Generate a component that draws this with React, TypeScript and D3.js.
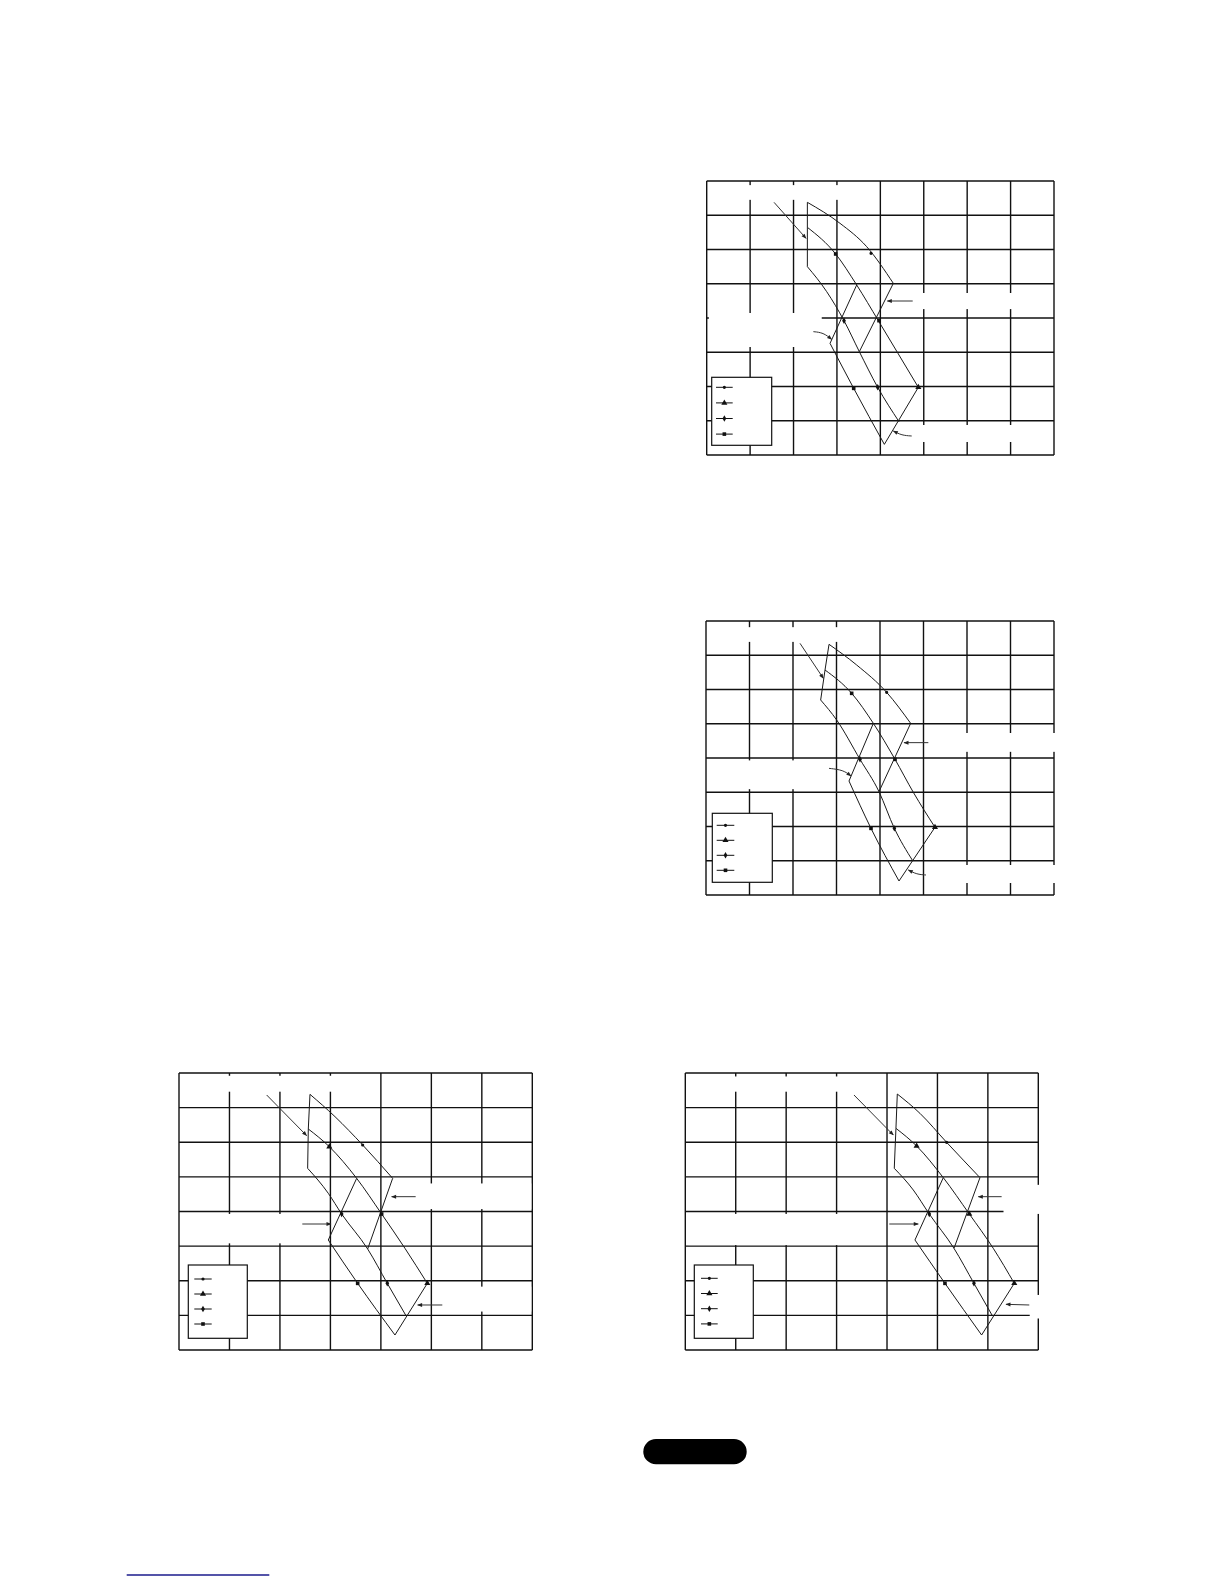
import React from 'react';
import * as d3 from 'd3';

type Pt = [number, number];

// ---------- shared ----------
const ROWS = 8;
const legendSeries = ['dot', 'tri', 'dia', 'sq'];

// ---------- chart 1 (grid units: x 0..8, y 0..8) ----------
const c1Edge: Pt[][] = [
  [[2.319, 7.377], [2.319, 6.647], [2.319, 5.499]],
  [[4.299, 5.012], [3.516, 3.017]],
  [[3.455, 4.964], [2.841, 3.26]],
  [[4.875, 1.976], [4.092, 0.311]],
];
const c1S1: Pt[] = [[2.319, 7.377], [3.071, 6.764], [3.685, 6.083], [4.299, 5.012]];
const c1S2: Pt[] = [[2.319, 6.647], [2.971, 5.869], [3.455, 4.964], [3.954, 3.922], [4.415, 2.949], [4.875, 1.976]];
const c1S3: Pt[] = [[2.319, 5.499], [2.764, 4.769], [3.163, 3.922], [3.516, 3.017], [3.939, 1.976], [4.43, 0.973]];
const c1S4: Pt[] = [[2.841, 3.26], [3.386, 1.946], [4.092, 0.311]];
const c1Marks: [number, number, string][] = [
  [3.785, 5.888, 'dot'], [2.971, 5.869, 'sq'], [3.163, 3.922, 'dia'], [3.969, 3.922, 'sq'],
  [3.386, 1.946, 'sq'], [3.939, 1.976, 'dia'], [4.875, 1.976, 'tri'],
];
const c1Arrows: Pt[][] = [
  [[1.551, 7.377], [2.288, 6.326]],
  [[4.745, 4.496], [4.161, 4.496]],
  [[2.457, 3.601], [2.687, 3.572], [2.879, 3.377]],
  [[4.722, 0.555], [4.491, 0.574], [4.299, 0.701]],
];
const c1Masks: number[][] = [
  [0.6, 3.3, 7.45, 7.88], [4.8, 7.95, 4.26, 4.73], [0.05, 2.65, 3.153, 4.146], [4.77, 7.95, 0.38, 0.876],
];

// ---------- chart 2 ----------
const c2Edge: Pt[][] = [
  [[2.828, 7.319], [2.736, 6.569], [2.636, 5.693]],
  [[4.705, 5.012], [3.977, 3.017]],
  [[3.847, 5.012], [3.287, 3.328]],
  [[5.264, 1.976], [4.437, 0.409]],
];
const c2S1: Pt[] = [[2.828, 7.319], [3.464, 6.715], [4.153, 5.917], [4.705, 5.012]];
const c2S2: Pt[] = [[2.736, 6.569], [3.349, 5.888], [3.847, 5.012], [4.345, 3.961], [4.766, 2.998], [5.264, 1.976]];
const c2S3: Pt[] = [[2.636, 5.693], [3.004, 5.109], [3.54, 3.961], [3.977, 3.017], [4.33, 1.946], [4.751, 1.002]];
const c2S4: Pt[] = [[3.287, 3.328], [3.793, 1.946], [4.437, 0.409]];
const c2Marks: [number, number, string][] = [
  [4.153, 5.917, 'dot'], [3.349, 5.888, 'sq'], [3.54, 3.961, 'dia'], [4.345, 3.961, 'sq'],
  [3.793, 1.946, 'sq'], [4.33, 1.946, 'dia'], [5.264, 1.976, 'tri'],
];
const c2Arrows: Pt[][] = [
  [[2.161, 7.348], [2.697, 6.326]],
  [[5.111, 4.448], [4.552, 4.448]],
  [[2.828, 3.698], [3.157, 3.65], [3.333, 3.474]],
  [[5.057, 0.584], [4.843, 0.603], [4.651, 0.73]],
];
const c2Masks: number[][] = [
  [0.62, 3.24, 7.39, 7.82], [5.15, 8.07, 4.18, 4.73], [0.1, 2.8, 3.09, 3.93], [5.1, 8.07, 0.35, 0.876],
];

// ---------- chart 3 (x 0..7) ----------
const c3Edge: Pt[][] = [
  [[2.595, 7.384], [2.562, 6.383], [2.549, 5.247]],
  [[4.233, 4.958], [3.738, 2.917]],
  [[3.52, 4.958], [2.958, 3.177]],
  [[4.92, 1.925], [4.279, 0.433]],
];
const c3S1: Pt[] = [[2.595, 7.384], [3.091, 6.739], [3.639, 5.921], [4.233, 4.958]];
const c3S2: Pt[] = [[2.562, 6.383], [2.978, 5.872], [3.52, 4.958], [4.015, 3.928], [4.477, 2.936], [4.92, 1.925]];
const c3S3: Pt[] = [[2.549, 5.247], [2.958, 4.525], [3.223, 3.928], [3.738, 2.917], [4.127, 1.925], [4.497, 0.992]];
const c3S4: Pt[] = [[2.958, 3.177], [3.54, 1.925], [4.279, 0.433]];
const c3Marks: [number, number, string][] = [
  [3.639, 5.921, 'dot'], [2.978, 5.872, 'tri'], [3.223, 3.928, 'dia'], [4.015, 3.928, 'sq'],
  [3.54, 1.925, 'sq'], [4.127, 1.925, 'dia'], [4.92, 1.925, 'tri'],
];
const c3Arrows: Pt[][] = [
  [[1.737, 7.365], [2.529, 6.19]],
  [[4.689, 4.428], [4.213, 4.428]],
  [[2.443, 3.639], [3.011, 3.639]],
  [[5.217, 1.3], [4.728, 1.3]],
];
const c3Masks: number[][] = [
  [0.78, 3.09, 7.46, 7.92], [4.81, 6.98, 4.07, 4.81], [0.05, 2.4, 3.08, 3.93], [5.27, 6.98, 1.11, 1.83],
];

// ---------- chart 4 (x 0..7) ----------
const c4Edge: Pt[][] = [
  [[4.204, 7.393], [4.177, 6.402], [4.144, 5.247]],
  [[5.843, 4.977], [5.328, 2.936]],
  [[5.116, 4.977], [4.554, 3.177]],
  [[6.524, 1.925], [5.876, 0.433]],
];
const c4S1: Pt[] = [[4.204, 7.393], [4.653, 6.835], [5.182, 5.998], [5.843, 4.977]];
const c4S2: Pt[] = [[4.177, 6.402], [4.587, 5.892], [5.116, 4.977], [5.632, 3.928], [6.107, 2.936], [6.524, 1.925]];
const c4S3: Pt[] = [[4.144, 5.247], [4.521, 4.621], [4.838, 3.928], [5.328, 2.936], [5.724, 1.925], [6.088, 0.992]];
const c4S4: Pt[] = [[4.554, 3.177], [5.149, 1.925], [5.876, 0.433]];
const c4Marks: [number, number, string][] = [
  [5.182, 5.998, 'dot'], [4.587, 5.892, 'tri'], [4.838, 3.928, 'dia'], [5.632, 3.928, 'tri'],
  [5.149, 1.925, 'sq'], [5.724, 1.925, 'dia'], [6.524, 1.925, 'tri'],
];
const c4Arrows: Pt[][] = [
  [[3.345, 7.365], [4.125, 6.209]],
  [[6.273, 4.428], [5.81, 4.428]],
  [[4.045, 3.639], [4.62, 3.639]],
  [[6.821, 1.3], [6.359, 1.319]],
];
const c4Masks: number[][] = [
  [0.75, 3.33, 7.46, 7.9], [6.31, 7.07, 3.93, 4.77], [0.06, 3.96, 3.03, 3.93], [6.83, 7.07, 0.91, 1.59],
];

// ---------- layout ----------
const charts = [
  {
    box: { left: 706.7, right: 1054, top: 181, bottom: 455, cols: 8 },
    legend: { x: 711.7, y: 377.3, w: 60, h: 68, y0: 10, dy: 15.6, lx0: 716, lx1: 732.7 },
    edges: c1Edge, curves: [c1S1, c1S2, c1S3, c1S4], marks: c1Marks, arrows: c1Arrows, masks: c1Masks,
  },
  {
    box: { left: 706, right: 1054, top: 621, bottom: 895, cols: 8 },
    legend: { x: 712.3, y: 813.3, w: 60, h: 69, y0: 12, dy: 15, lx0: 716.7, lx1: 734.3 },
    edges: c2Edge, curves: [c2S1, c2S2, c2S3, c2S4], marks: c2Marks, arrows: c2Arrows, masks: c2Masks,
  },
  {
    box: { left: 179, right: 532.3, top: 1073, bottom: 1350, cols: 7 },
    legend: { x: 188.3, y: 1265, w: 59, h: 73.3, y0: 14, dy: 15, lx0: 194.3, lx1: 211.7 },
    edges: c3Edge, curves: [c3S1, c3S2, c3S3, c3S4], marks: c3Marks, arrows: c3Arrows, masks: c3Masks,
  },
  {
    box: { left: 685.3, right: 1038.3, top: 1073, bottom: 1350, cols: 7 },
    legend: { x: 694.3, y: 1265, w: 59, h: 73.3, y0: 13.3, dy: 15.2, lx0: 701, lx1: 717.7 },
    edges: c4Edge, curves: [c4S1, c4S2, c4S3, c4S4], marks: c4Marks, arrows: c4Arrows, masks: c4Masks,
  },
];

const symbolFor: Record<string, [d3.SymbolType, number]> = {
  dot: [d3.symbolCircle, 8],
  tri: [d3.symbolTriangle, 16],
  dia: [d3.symbolDiamond, 12],
  sq: [d3.symbolSquare, 13],
};
function symPath(t: string) {
  const [type, size] = symbolFor[t];
  return d3.symbol().type(type).size(size)() as string;
}

function Chart({ cfg, idx }: { cfg: any; idx: number }) {
  const { box, legend } = cfg;
  const x = d3.scaleLinear().domain([0, box.cols]).range([box.left, box.right]);
  const y = d3.scaleLinear().domain([0, ROWS]).range([box.bottom, box.top]);
  const straight = d3.line<Pt>().x((d) => x(d[0])).y((d) => y(d[1]));
  const smooth = d3.line<Pt>().x((d) => x(d[0])).y((d) => y(d[1])).curve(d3.curveMonotoneX);
  const bent = d3.line<Pt>().x((d) => x(d[0])).y((d) => y(d[1])).curve(d3.curveBasis);
  const gridColor = '#111';
  return (
    <g>
      {d3.range(box.cols + 1).map((i) => (
        <line key={'v' + i} x1={x(i)} x2={x(i)} y1={y(0)} y2={y(ROWS)} stroke={gridColor} strokeWidth={1.4} />
      ))}
      {d3.range(ROWS + 1).map((j) => (
        <line key={'h' + j} x1={x(0)} x2={x(box.cols)} y1={y(j)} y2={y(j)} stroke={gridColor} strokeWidth={1.4} />
      ))}
      {cfg.masks.map((m: number[], i: number) => (
        <rect key={'m' + i} x={x(m[0])} y={y(m[3])} width={x(m[1]) - x(m[0])} height={y(m[2]) - y(m[3])} fill="#fff" />
      ))}
      {cfg.edges.map((e: Pt[], i: number) => (
        <path key={'e' + i} d={straight(e) as string} fill="none" stroke="#1a1a1a" strokeWidth={1} />
      ))}
      {cfg.curves.map((c: Pt[], i: number) => (
        <path key={'c' + i} d={smooth(c) as string} fill="none" stroke="#1a1a1a" strokeWidth={1} />
      ))}
      {cfg.marks.map((m: [number, number, string], i: number) => (
        <path key={'k' + i} d={symPath(m[2])} transform={`translate(${x(m[0])},${y(m[1])})`} fill="#111" />
      ))}
      {cfg.arrows.map((a: Pt[], i: number) => (
        <path key={'a' + i} d={(a.length > 2 ? bent(a) : straight(a)) as string} fill="none" stroke="#333"
          strokeWidth={1} markerEnd={`url(#ah${idx})`} />
      ))}
      <rect x={legend.x} y={legend.y} width={legend.w} height={legend.h} fill="#fff" stroke="#111" strokeWidth={1.2} />
      {legendSeries.map((s, i) => {
        const ly = legend.y + legend.y0 + i * legend.dy;
        const mx = (legend.lx0 + legend.lx1) / 2;
        return (
          <g key={'l' + i}>
            <line x1={legend.lx0} x2={legend.lx1} y1={ly} y2={ly} stroke="#111" strokeWidth={1} />
            <path d={symPath(s)} transform={`translate(${mx},${ly})`} fill="#111" />
          </g>
        );
      })}
    </g>
  );
}

export default function App() {
  return (
    <svg width={1224} height={1584} viewBox="0 0 1224 1584"
      style={{ position: 'absolute', left: 0, top: 0, display: 'block', background: '#fff' }}>
      <defs>
        {charts.map((_, i) => (
          <marker key={i} id={`ah${i}`} viewBox="0 0 10 10" refX={9} refY={5} markerWidth={6} markerHeight={5}
            orient="auto" markerUnits="userSpaceOnUse">
            <path d="M0,1 L10,5 L0,9 z" fill="#222" />
          </marker>
        ))}
      </defs>
      <rect x={0} y={0} width={1224} height={1584} fill="#fff" />
      {charts.map((c, i) => (
        <Chart key={i} cfg={c} idx={i} />
      ))}
      <rect x={643.3} y={1439} width={103.4} height={25.3} rx={12.65} ry={12.65} fill="#000" />
      <line x1={126.7} x2={269.3} y1={1575} y2={1575} stroke="#1b1b8c" strokeWidth={1.3} />
    </svg>
  );
}
